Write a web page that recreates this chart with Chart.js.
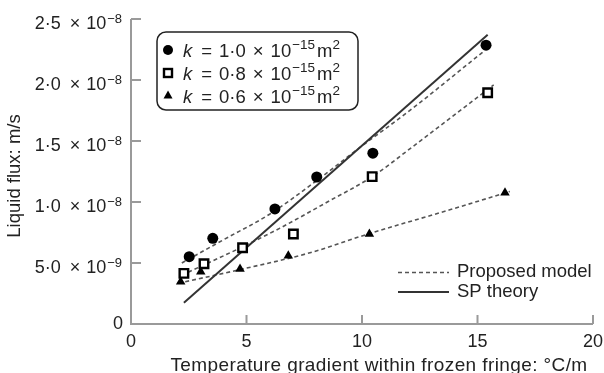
<!DOCTYPE html>
<html><head><meta charset="utf-8">
<script src="https://cdn.jsdelivr.net/npm/chart.js@4/dist/chart.umd.min.js"></script>
<style>html,body{margin:0;padding:0;background:#fff}#wrap{width:604px;height:373px}</style>
</head><body><div id="wrap"><canvas id="c" width="604" height="373"></canvas></div>
<script>
// ---- data (y in units of 1e-9 m/s) ----
const xTicks = [0, 5, 10, 15, 20];
const xTickLabels = ['0', '5', '10', '15', '20'];
const yTicks = [0, 5, 10, 15, 20, 25];
const yTickMant = ['0', '5·0', '1·0', '1·5', '2·0', '2·5'];
const yTickExp = ['', '−9', '−8', '−8', '−8', '−8'];

const k10X = [2.52, 3.54, 6.23, 8.04, 10.47, 15.37];
const k10Y = [5.52, 7.02, 9.43, 12.05, 14.0, 22.85];
const k08X = [2.29, 3.16, 4.83, 7.03, 10.44, 15.44];
const k08Y = [4.15, 4.94, 6.25, 7.38, 12.08, 18.96];
const k06X = [2.15, 3.02, 4.72, 6.81, 10.32, 16.19];
const k06Y = [3.47, 4.29, 4.50, 5.60, 7.38, 10.76];

const m10X = [2.2, 4.0, 6.0, 8.0, 10.0, 12.0, 15.3];
const m10Y = [5.0, 6.9, 9.0, 11.7, 14.6, 17.4, 22.4];
const m08X = [2.2, 4.8, 6.45, 8.5, 10.46, 12.1, 15.7];
const m08Y = [4.0, 6.3, 7.86, 10.0, 12.1, 14.4, 19.6];
const m06X = [2.05, 4.65, 7.75, 10.3, 13.8, 16.4];
const m06Y = [3.34, 4.43, 5.84, 7.4, 9.36, 10.86];
const spX = [2.29, 15.44];
const spY = [1.75, 23.7];

const legendMant = ['1·0', '0·8', '0·6'];
const xTitle = 'Temperature gradient within frozen fringe: °C/m';
const yTitle = 'Liquid flux: m/s';

const pts = (xs, ys) => xs.map((x, i) => ({x, y: ys[i]}));
const FONT = '"Liberation Sans", Arial, Helvetica, sans-serif';
const TXT = '#222';
const AX = '#9a9a9a';

const dashed = (xs, ys) => ({data: pts(xs, ys), showLine: true, borderColor: '#555', borderWidth: 1.6,
  borderDash: [4, 3], pointRadius: 0, cubicInterpolationMode: 'monotone', order: 5});

// draw a run of text pieces; each piece: [text, font, dy, gapAfter]
function pieces(ctx, list, x, base, measureOnly) {
  let w = 0;
  list.forEach(([t, f, dy, gap]) => {
    ctx.font = f;
    if (!measureOnly) ctx.fillText(t, x + w, base + dy);
    w += ctx.measureText(t).width + gap;
  });
  return w;
}

const deco = {
  id: 'deco',
  afterDraw(chart) {
    const ctx = chart.ctx, xs = chart.scales.x, ys = chart.scales.y;
    const x0 = xs.getPixelForValue(0), y0 = ys.getPixelForValue(0);
    const xEnd = xs.getPixelForValue(20), yTop = ys.getPixelForValue(25);
    ctx.save();
    // axes
    ctx.strokeStyle = AX; ctx.lineWidth = 2;
    ctx.beginPath();
    ctx.moveTo(x0, yTop); ctx.lineTo(x0, y0); ctx.lineTo(xEnd, y0);
    yTicks.forEach(v => { if (v) { const p = ys.getPixelForValue(v); ctx.moveTo(x0, p); ctx.lineTo(x0 + 10, p); } });
    xTicks.forEach(v => { if (v) { const p = xs.getPixelForValue(v); ctx.moveTo(p, y0); ctx.lineTo(p, y0 - 9); } });
    ctx.stroke();
    // x tick labels
    ctx.fillStyle = TXT;
    ctx.font = '18px ' + FONT; ctx.textAlign = 'center'; ctx.textBaseline = 'alphabetic';
    xTicks.forEach((v, i) => ctx.fillText(xTickLabels[i], xs.getPixelForValue(v), 347));
    // y tick labels
    const right = 122;
    const F18 = '18px ' + FONT, F13 = '13px ' + FONT;
    yTicks.forEach((v, i) => {
      const p = ys.getPixelForValue(v);
      if (!yTickExp[i]) {
        ctx.textAlign = 'right'; ctx.font = F18; ctx.textBaseline = 'middle';
        ctx.fillText(yTickMant[i], right + 1, p);
        return;
      }
      ctx.textAlign = 'left'; ctx.textBaseline = 'alphabetic';
      const list = [[yTickMant[i], F18, 0, 9], ['×', F18, 0, 6], ['10', F18, 0, 1], [yTickExp[i], F13, -6, 0]];
      const w = pieces(ctx, list, 0, 0, true);
      pieces(ctx, list, right - w, p + 10, false);
    });
    // axis titles
    ctx.textAlign = 'left'; ctx.textBaseline = 'alphabetic';
    ctx.font = '19px ' + FONT;
    ctx.letterSpacing = '0.4px';
    const tw = ctx.measureText(xTitle).width;
    ctx.fillText(xTitle, 379 - tw / 2, 371);
    ctx.letterSpacing = '0px';
    ctx.textAlign = 'center';
    ctx.font = '18.5px ' + FONT;
    ctx.save(); ctx.translate(20, 176); ctx.rotate(-Math.PI / 2);
    ctx.fillText(yTitle, 0, 0); ctx.restore();
    // legend box
    ctx.strokeStyle = '#222'; ctx.lineWidth = 1.5;
    ctx.beginPath(); ctx.roundRect(157, 32, 201, 78, 9); ctx.stroke();
    const rows = [50, 73, 95.5];
    const styles = ['circle', 'rect', 'triangle'];
    rows.forEach((ry, i) => {
      ctx.fillStyle = '#000'; ctx.strokeStyle = '#000';
      if (styles[i] === 'circle') { ctx.beginPath(); ctx.arc(168, ry, 5, 0, Math.PI * 2); ctx.fill(); }
      else if (styles[i] === 'rect') { ctx.lineWidth = 2.4; ctx.fillStyle = '#fff'; ctx.fillRect(164, ry - 4, 8, 8); ctx.strokeRect(164, ry - 4, 8, 8); }
      else { ctx.beginPath(); ctx.moveTo(168, ry - 5); ctx.lineTo(172.5, ry + 3); ctx.lineTo(163.5, ry + 3); ctx.closePath(); ctx.fill(); }
      ctx.fillStyle = TXT; ctx.textAlign = 'left'; ctx.textBaseline = 'alphabetic';
      const FI = 'italic 18.5px ' + FONT, FN = '18.5px ' + FONT, FS = '13.5px ' + FONT;
      pieces(ctx, [['k', FI, 0, 9], ['=', FN, 0, 7], [legendMant[i], FN, 0, 7], ['×', FN, 0, 7],
        ['10', FN, 0, 1], ['−15', FS, -8, 2], ['m', FN, 0, 0], ['2', FS, -8, 0]], 183, ry + 7, false);
    });
    // lower legend
    ctx.lineWidth = 1.6; ctx.strokeStyle = '#555'; ctx.setLineDash([4, 3]);
    ctx.beginPath(); ctx.moveTo(398, 272.5); ctx.lineTo(449, 272.5); ctx.stroke();
    ctx.setLineDash([]); ctx.strokeStyle = '#333'; ctx.lineWidth = 2;
    ctx.beginPath(); ctx.moveTo(398, 292); ctx.lineTo(449, 292); ctx.stroke();
    ctx.fillStyle = TXT; ctx.font = '18.5px ' + FONT; ctx.textAlign = 'left'; ctx.textBaseline = 'middle';
    ctx.fillText('Proposed model', 457, 272);
    ctx.fillText('SP theory', 457, 292);
    ctx.restore();
  }
};

new Chart(document.getElementById('c'), {
  type: 'scatter',
  data: {
    datasets: [
      {data: pts(k10X, k10Y), pointStyle: 'circle', pointRadius: 5.5, backgroundColor: '#000', borderColor: '#000', borderWidth: 0, order: 1},
      {data: pts(k08X, k08Y), pointStyle: 'rect', pointRadius: 6, backgroundColor: '#fff', borderColor: '#000', borderWidth: 2.4, order: 1},
      {data: pts(k06X, k06Y), pointStyle: 'triangle', pointRadius: 5.5, backgroundColor: '#000', borderColor: '#000', borderWidth: 0, order: 1},
      dashed(m10X, m10Y), dashed(m08X, m08Y), dashed(m06X, m06Y),
      {data: pts(spX, spY), showLine: true, borderColor: '#333', borderWidth: 2, pointRadius: 0, order: 4}
    ]
  },
  options: {
    responsive: false, animation: false,
    layout: {padding: {left: 131, right: 11, top: 19, bottom: 49}},
    plugins: {legend: {display: false}, tooltip: {enabled: false}},
    scales: {
      x: {type: 'linear', min: 0, max: 20, display: false},
      y: {type: 'linear', min: 0, max: 25, display: false}
    }
  },
  plugins: [deco]
});
</script></body></html>
